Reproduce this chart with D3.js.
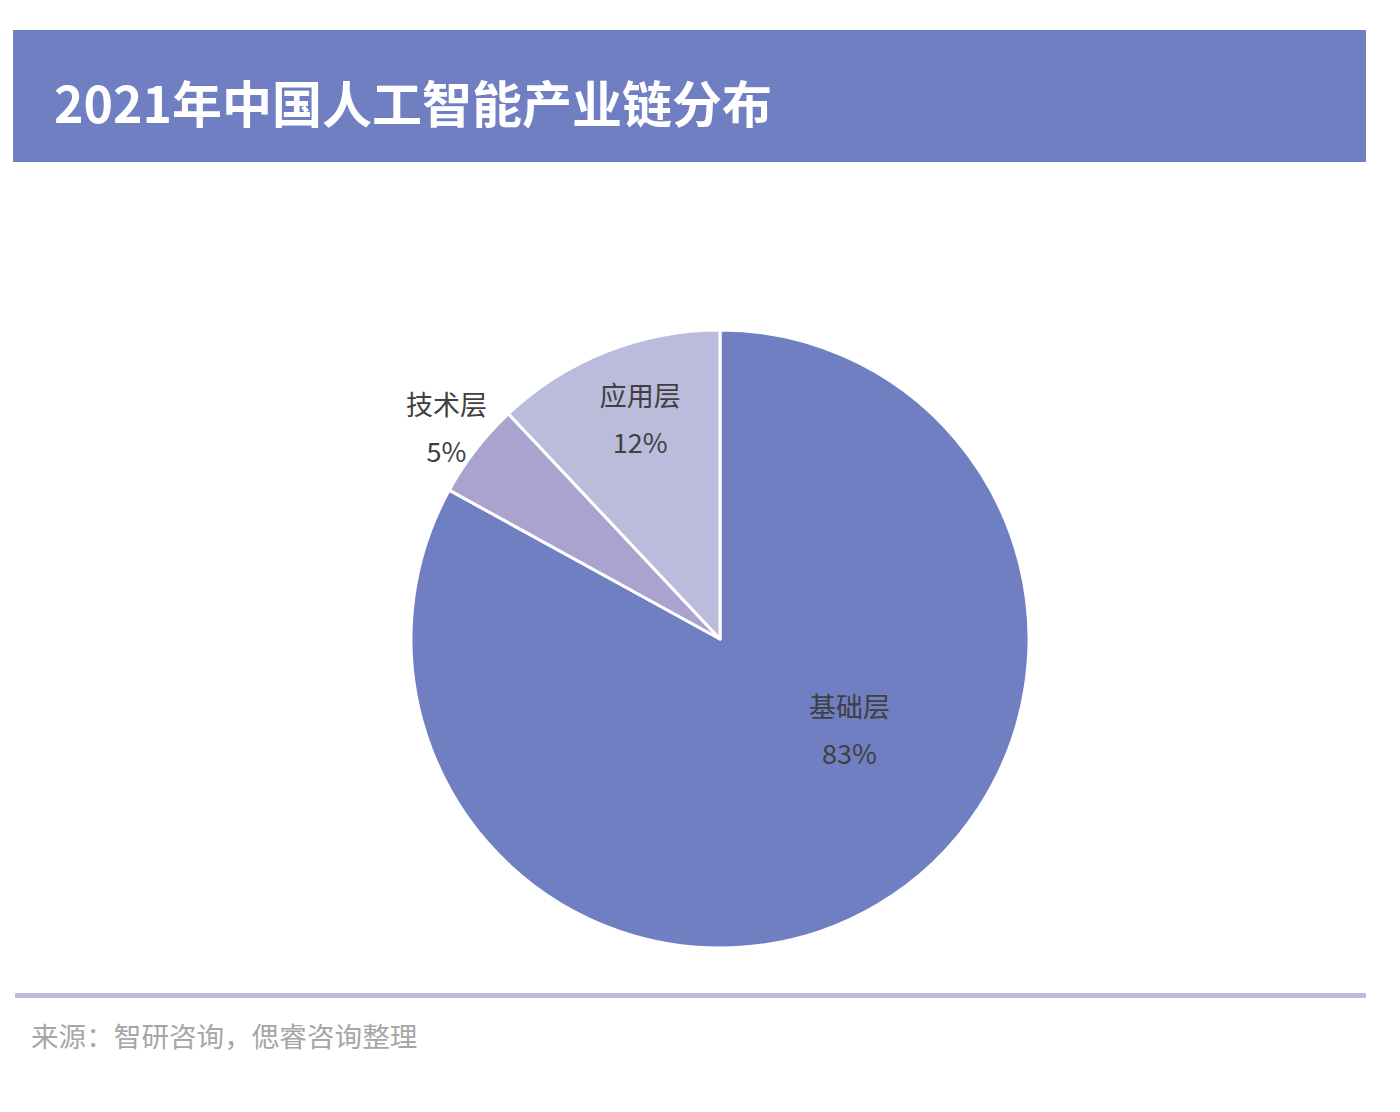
<!DOCTYPE html>
<html>
<head>
<meta charset="utf-8">
<script src="https://cdn.jsdelivr.net/npm/d3@7"></script>
<style>
  body { margin: 0; background: #fff; }
  svg { display: block; font-family: "Noto Sans CJK SC", "Noto Sans", sans-serif; }
</style>
</head>
<body>
<div id="chart"></div>
<script>
// data
var categories = ["基础层", "技术层", "应用层"];
var shares = [83, 5, 12];
var colors = ["#6f7fc1", "#aaa3d0", "#bbbbdb"];
var title = "2021年中国人工智能产业链分布";
var source = "来源：智研咨询，偲睿咨询整理";

var width = 1400, height = 1112;
var cx = 720, cy = 639, radius = 309;

// label placement (radius as fraction of R, angle shift in rad)
var labelLayout = [
  { r: 0.51, shift: -0.43 },
  { r: 1.12, shift: 0 },
  { r: 0.76, shift: 0.03 }
];

var svg = d3.select("#chart").append("svg")
    .attr("width", width)
    .attr("height", height);

// header banner
svg.append("rect")
    .attr("x", 13).attr("y", 30)
    .attr("width", 1353).attr("height", 132)
    .attr("fill", "#6f7fc1");

svg.append("text")
    .attr("x", 54).attr("y", 123)
    .attr("fill", "#fff")
    .attr("font-size", 50)
    .attr("font-weight", "bold")
    .text(title);

var data = categories.map(function(c, i) {
  return { name: c, value: shares[i], color: colors[i] };
});

var pie = d3.pie()
    .sort(null)
    .value(function(d) { return d.value; });

var arc = d3.arc().innerRadius(0).outerRadius(radius);

var g = svg.append("g")
    .attr("transform", "translate(" + cx + "," + cy + ")");

var arcs = pie(data);

g.selectAll(".slice")
    .data(arcs)
  .enter().append("path")
    .attr("class", "slice")
    .attr("d", arc)
    .attr("fill", function(d) { return d.data.color; })
    .attr("stroke", "#fff")
    .attr("stroke-width", 3)
    .attr("stroke-linejoin", "round");

var labels = g.selectAll(".lbl")
    .data(arcs)
  .enter().append("g")
    .attr("class", "lbl")
    .attr("transform", function(d, i) {
      var a = (d.startAngle + d.endAngle) / 2 + labelLayout[i].shift;
      var r = radius * labelLayout[i].r;
      return "translate(" + (Math.sin(a) * r) + "," + (-Math.cos(a) * r) + ")";
    });

labels.append("text")
    .attr("text-anchor", "middle")
    .attr("y", -12)
    .attr("font-size", 27)
    .attr("fill", "#404040")
    .text(function(d) { return d.data.name; });

labels.append("text")
    .attr("text-anchor", "middle")
    .attr("y", 35)
    .attr("font-size", 27)
    .attr("fill", "#404040")
    .text(function(d) { return d.data.value + "%"; });

// footer
svg.append("rect")
    .attr("x", 15).attr("y", 993)
    .attr("width", 1351).attr("height", 5)
    .attr("fill", "#bbbbdb");

svg.append("text")
    .attr("x", 31).attr("y", 1047)
    .attr("fill", "#a6a6a6")
    .attr("font-size", 27.6)
    .text(source);
</script>
</body>
</html>
